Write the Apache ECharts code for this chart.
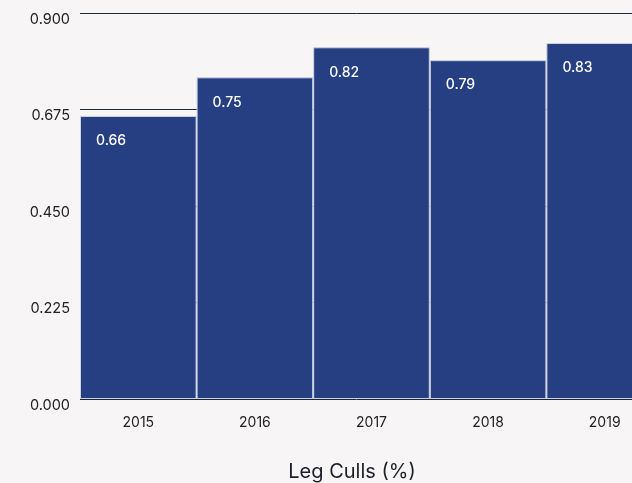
<!DOCTYPE html>
<html>
<head>
<meta charset="utf-8">
<script src="https://cdn.jsdelivr.net/npm/echarts@6/dist/echarts.min.js"></script>
<style>
  html, body { margin: 0; padding: 0; background: #f7f5f5; overflow: hidden; }
  #chart { width: 632px; height: 483px; }
</style>
</head>
<body>
<div id="chart"></div>
<script>
// Yearly leg cull rate
const years = ['2015', '2016', '2017', '2018', '2019'];
const legCulls = [0.66, 0.75, 0.82, 0.79, 0.83];
const yTicks = [0, 0.225, 0.45, 0.675, 0.9];

const font = 'Inter, Roboto, sans-serif';
const chart = echarts.init(document.getElementById('chart'), null, { renderer: 'canvas' });

chart.setOption({
  backgroundColor: '#f7f5f5',
  animation: false,
  title: {
    text: 'Leg Culls (%)',
    left: 347,
    top: 457,
    textAlign: 'center',
    textStyle: { fontFamily: font, fontSize: 20, fontWeight: 'normal', color: '#1b1f2a' }
  },
  // the plot runs on past the right edge of the canvas
  grid: { left: 80, width: 583, top: 13, height: 386, outerBoundsMode: 'none', containLabel: false },
  xAxis: {
    type: 'category',
    data: years,
    axisLine: { show: false },
    axisTick: { show: false },
    axisLabel: { fontFamily: font, fontSize: 14, color: '#222', margin: 17 }
  },
  yAxis: {
    type: 'value',
    min: yTicks[0],
    max: yTicks[yTicks.length - 1],
    interval: yTicks[1] - yTicks[0],
    axisLine: { show: false },
    axisTick: { show: false },
    splitLine: { lineStyle: { color: '#1c2636', width: 1 } },
    axisLabel: {
      fontFamily: font, fontSize: 14.5, color: '#222', margin: 10,
      verticalAlign: 'top',
      padding: [-1, 0, 0, 0],
      formatter: v => v.toFixed(3)
    }
  },
  series: [{
    type: 'bar',
    data: legCulls,
    barCategoryGap: 0,
    itemStyle: { color: '#263e82', borderColor: '#cdd3e4', borderWidth: 1 },
    label: {
      show: true,
      position: [16, 18],
      align: 'left',
      verticalAlign: 'top',
      fontFamily: font,
      fontSize: 14,
      fontWeight: 500,
      color: '#ffffff',
      formatter: p => p.value.toFixed(2)
    }
  }]
});
</script>
</body>
</html>
